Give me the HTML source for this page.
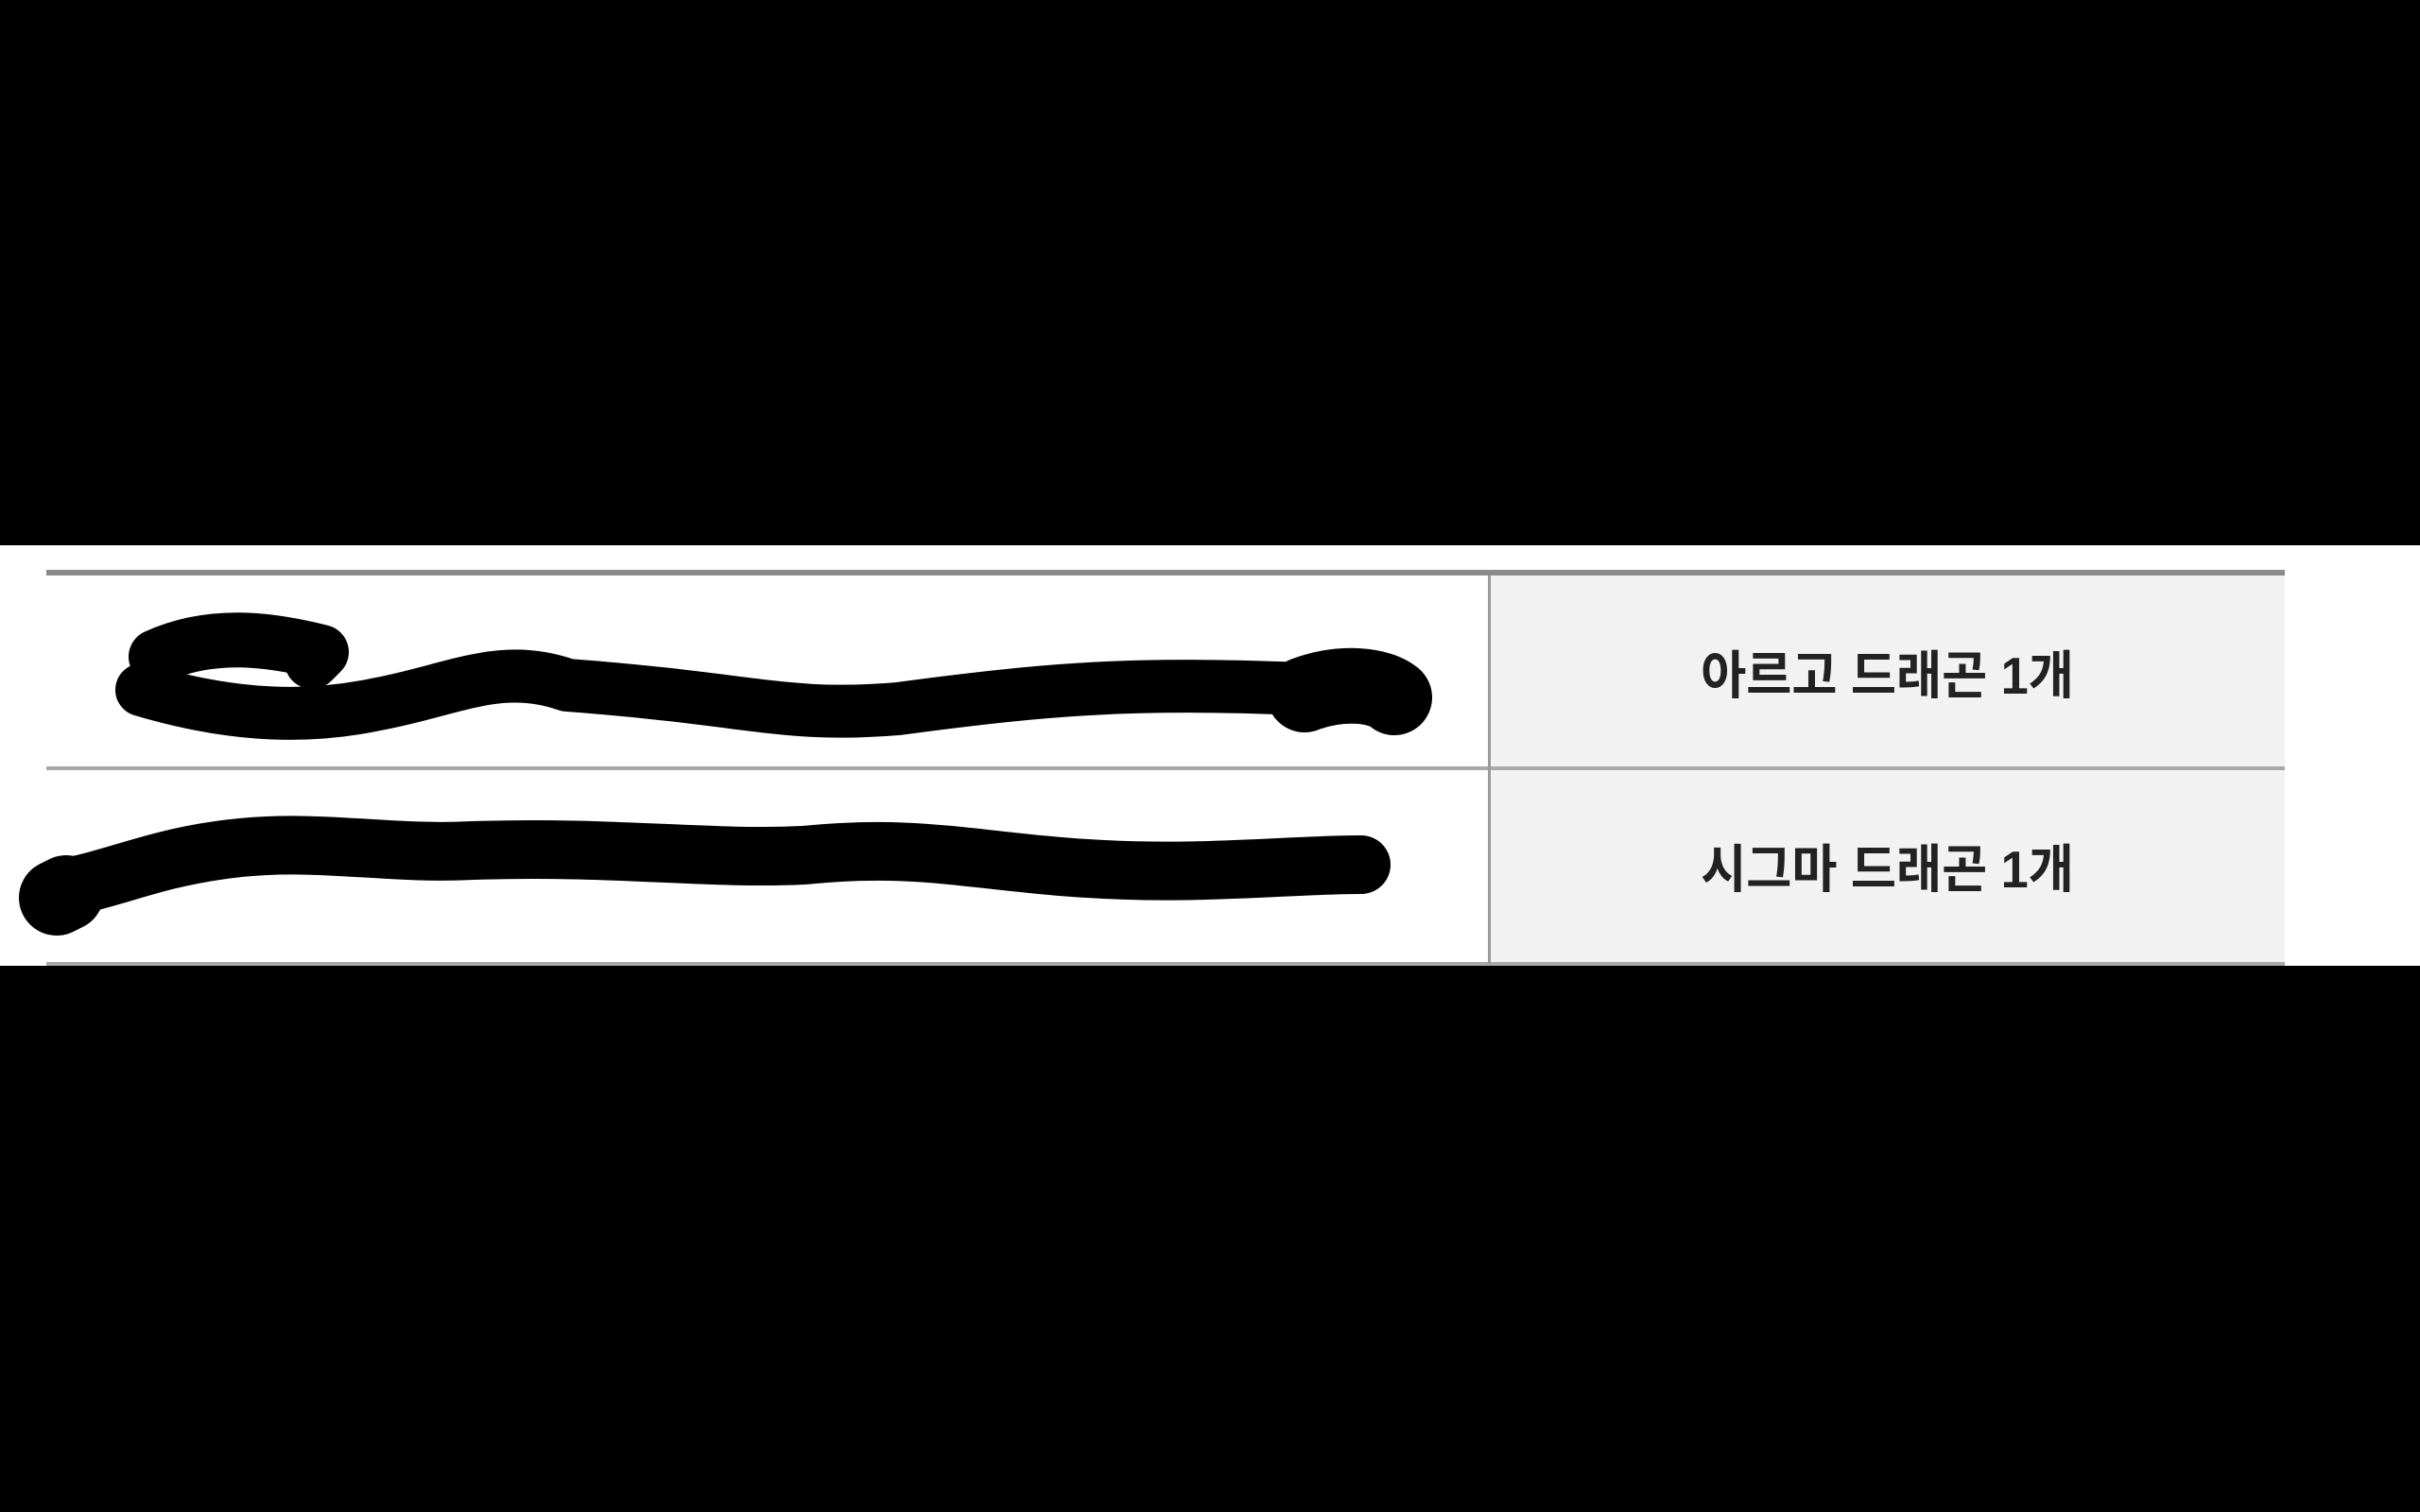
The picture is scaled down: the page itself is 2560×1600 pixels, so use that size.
<!DOCTYPE html>
<html><head><meta charset="utf-8"><style>
html,body{margin:0;padding:0;background:#000;}
body{width:2560px;height:1600px;position:relative;overflow:hidden;}
.band{position:absolute;left:0;top:577px;width:2560px;height:445px;background:#fff;}
.gray{position:absolute;left:1576px;top:609px;width:841px;height:411px;background:#f2f2f2;}
.hl{position:absolute;left:49px;width:2368px;background:#8a8a8a;}
.vl{position:absolute;left:1574px;top:609px;width:3px;height:411px;background:#9a9a9a;}
.t{position:absolute;left:1576px;width:841px;text-align:center;font-family:"Liberation Sans","Noto Sans CJK KR",sans-serif;font-size:55px;font-weight:700;color:#222;line-height:60px;transform:scaleX(0.95);}
svg{position:absolute;left:0;top:0;}
</style></head><body>
<div class="band"></div>
<div class="gray"></div>
<div class="hl" style="top:603px;height:6px;"></div>
<div class="hl" style="top:811px;height:4px;background:#a8a8a8;"></div>
<div class="hl" style="top:1018px;height:4px;background:#a8a8a8;"></div>
<div class="vl"></div>
<div class="t" style="top:685px;">아르고 드래곤 1개</div>
<div class="t" style="top:890px;">시그마 드래곤 1개</div>
<svg width="2560" height="1600">
<g fill="none" stroke="#000" stroke-linecap="round" stroke-linejoin="round">
<path d="M165 695 C230 665 300 680 340 690 L330 700" stroke-width="58"/>
<path d="M150 730 C250 760 330 760 400 745 C480 730 530 700 600 725 C800 740 830 760 950 750 C1100 730 1200 720 1400 730 L1480 740" stroke-width="56"/>
<path d="M1380 735 C1420 720 1460 725 1475 738" stroke-width="80"/>
<path d="M65 940 C120 930 160 910 230 900 C330 885 400 905 500 900 C650 895 750 910 850 905 C950 895 1000 905 1100 915 C1250 930 1350 915 1440 915" stroke-width="62"/>
<path d="M70 945 L60 950" stroke-width="80"/>
</g>
</svg>
</body></html>
